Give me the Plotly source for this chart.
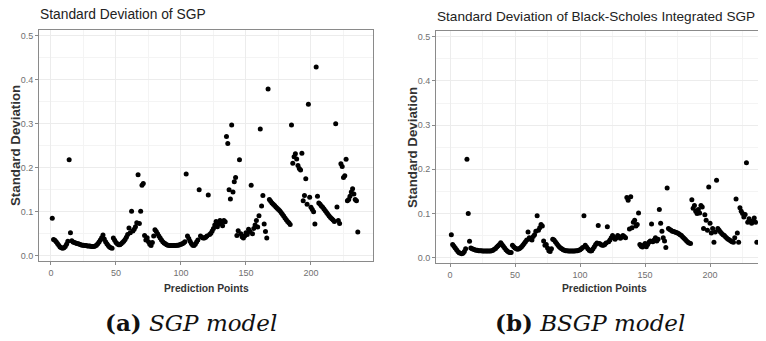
import plotly.graph_objects as go

# ---- data (index = prediction point) ----
sgp_sd = [
    0.085, 0.037, 0.035, 0.032, 0.028, 0.024, 0.020, 0.018, 0.017, 0.018,
    0.021, 0.026, 0.033, 0.218, 0.052, 0.034, 0.031, 0.030, 0.029, 0.028,
    0.027, 0.026, 0.025, 0.024, 0.024, 0.023, 0.023, 0.022, 0.022, 0.022,
    0.021, 0.021, 0.021, 0.022, 0.024, 0.027, 0.031, 0.036, 0.041, 0.047,
    0.038, 0.032, 0.027, 0.023, 0.020, 0.018, 0.017, 0.040, 0.035, 0.030,
    0.027, 0.025, 0.025, 0.027, 0.030, 0.033, 0.037, 0.042, 0.048, 0.063,
    0.052, 0.101, 0.056, 0.060, 0.066, 0.075, 0.184, 0.073, 0.101, 0.160,
    0.164, 0.046, 0.036, 0.041, 0.032, 0.026, 0.023, 0.030, 0.045, 0.059,
    0.055, 0.050, 0.045, 0.040, 0.036, 0.032, 0.029, 0.027, 0.025, 0.024,
    0.023, 0.023, 0.023, 0.023, 0.023, 0.023, 0.024, 0.024, 0.025, 0.026,
    0.027, 0.029, 0.032, 0.186, 0.045, 0.039, 0.033, 0.028, 0.024, 0.023,
    0.026, 0.031, 0.036, 0.150, 0.045, 0.042, 0.040, 0.040, 0.042, 0.045,
    0.138, 0.048, 0.051, 0.056, 0.062, 0.070, 0.078, 0.066, 0.072, 0.080,
    0.074, 0.068, 0.080, 0.077, 0.271, 0.255, 0.150, 0.129, 0.297, 0.145,
    0.168, 0.178, 0.046, 0.057, 0.218, 0.050, 0.043, 0.040, 0.045, 0.052,
    0.048, 0.060, 0.055, 0.160, 0.050, 0.062, 0.070, 0.080, 0.065, 0.091,
    0.288, 0.113, 0.137, 0.072, 0.055, 0.040, 0.379, 0.128, 0.124, 0.120,
    0.117, 0.114, 0.111, 0.108, 0.105, 0.102, 0.098, 0.094, 0.090, 0.086,
    0.082, 0.078, 0.075, 0.071, 0.297, 0.210, 0.225, 0.232, 0.220, 0.205,
    0.198, 0.195, 0.233, 0.125, 0.137, 0.175, 0.117, 0.344, 0.133, 0.110,
    0.105, 0.100, 0.072, 0.429, 0.135, 0.120, 0.117, 0.113, 0.110, 0.106,
    0.102, 0.098, 0.094, 0.090, 0.087, 0.084, 0.081, 0.078, 0.300, 0.111,
    0.080, 0.073, 0.209, 0.203, 0.178, 0.182, 0.219, 0.125, 0.128, 0.135,
    0.145, 0.152, 0.140, 0.128, 0.125, 0.054,
]

bsgp_sd = [
    0.052, 0.030, 0.026, 0.022, 0.018, 0.014, 0.011, 0.010, 0.009, 0.010,
    0.014, 0.020, 0.223, 0.100, 0.037, 0.022, 0.020, 0.019, 0.018, 0.017,
    0.017, 0.016, 0.016, 0.016, 0.015, 0.015, 0.015, 0.015, 0.015, 0.015,
    0.015, 0.016, 0.017, 0.019, 0.021, 0.024, 0.027, 0.030, 0.034, 0.030,
    0.026, 0.022, 0.018, 0.015, 0.013, 0.012, 0.012, 0.028, 0.025, 0.022,
    0.020, 0.019, 0.020, 0.022, 0.025, 0.028, 0.032, 0.036, 0.040, 0.058,
    0.045, 0.042, 0.040, 0.048, 0.052, 0.060, 0.095, 0.062, 0.068, 0.075,
    0.072, 0.038, 0.028, 0.030, 0.022, 0.016, 0.014, 0.020, 0.042, 0.040,
    0.036, 0.032, 0.028, 0.025, 0.022, 0.020, 0.018, 0.017, 0.016, 0.016,
    0.015, 0.015, 0.015, 0.015, 0.015, 0.015, 0.016, 0.016, 0.017, 0.018,
    0.020, 0.023, 0.095, 0.028, 0.024, 0.020, 0.017, 0.015, 0.016, 0.020,
    0.025, 0.030, 0.033, 0.073, 0.032, 0.030, 0.028, 0.028, 0.030, 0.033,
    0.070, 0.036, 0.040, 0.045, 0.050, 0.046, 0.042, 0.045, 0.050, 0.048,
    0.044, 0.046, 0.050, 0.048, 0.045, 0.136, 0.130, 0.065, 0.138, 0.068,
    0.080, 0.085, 0.072, 0.075, 0.101, 0.030, 0.026, 0.024, 0.028, 0.032,
    0.025, 0.030, 0.035, 0.038, 0.076, 0.036, 0.040, 0.045, 0.038, 0.042,
    0.109, 0.078, 0.060, 0.045, 0.038, 0.023, 0.158, 0.066, 0.064, 0.062,
    0.060, 0.059, 0.058, 0.057, 0.056, 0.054, 0.052, 0.050, 0.047, 0.044,
    0.041, 0.038, 0.035, 0.033, 0.032, 0.131, 0.112, 0.118, 0.105, 0.100,
    0.109, 0.101, 0.118, 0.115, 0.066, 0.097, 0.085, 0.062, 0.160, 0.078,
    0.056, 0.066, 0.035, 0.058, 0.175, 0.066, 0.062, 0.058, 0.055, 0.052,
    0.050, 0.047, 0.044, 0.042, 0.040, 0.038, 0.036, 0.035, 0.045, 0.133,
    0.056, 0.035, 0.113, 0.105, 0.100, 0.092, 0.098, 0.215, 0.080, 0.088,
    0.083, 0.078, 0.082, 0.090, 0.080, 0.035,
]

points_sgp = list(range(1, len(sgp_sd) + 1))
points_bsgp = list(range(1, len(bsgp_sd) + 1))

x_ticks = [0, 50, 100, 150, 200]
x_minor = [25, 75, 125, 175, 225]
y_ticks = [0.0, 0.1, 0.2, 0.3, 0.4, 0.5]
y_minor = [0.05, 0.15, 0.25, 0.35, 0.45]

title_a = "Standard Deviation of SGP"
title_b = "Standard Deviation of Black-Scholes Integrated SGP"
x_label = "Prediction Points"
y_label = "Standard Deviation"
caption_a = "<b>(a)</b> <i>SGP model</i>"
caption_b = "<b>(b)</b> <i>BSGP model</i>"

# ---- figure ----
W, H = 766, 341
OFF = 8  # page body margin: the figure is drawn 8px right / 8px down
SANS = "Liberation Sans, Arial, sans-serif"
BORDER = "#8a8a8a"
GRID = "#ececec"
GRID_MINOR = "#f4f4f4"
TICKC = "#707070"


def px(x):
    return (x - OFF) / W


def py(y):
    return (H - (y - OFF)) / H


fig = go.Figure()
marker = dict(color="black", size=5, line=dict(width=0))
fig.add_trace(go.Scatter(x=points_sgp, y=sgp_sd, mode="markers", marker=marker,
                         xaxis="x", yaxis="y", showlegend=False))
fig.add_trace(go.Scatter(x=points_bsgp, y=bsgp_sd, mode="markers", marker=marker,
                         xaxis="x2", yaxis="y2", showlegend=False))


def xax(domain, rng, anchor):
    return dict(domain=domain, range=rng, anchor=anchor, tickvals=x_ticks,
                showgrid=True, gridcolor=GRID, gridwidth=1, zeroline=False,
                showline=True, linecolor=BORDER, linewidth=1, mirror=True,
                ticks="outside", ticklen=3, tickcolor=BORDER, tickwidth=1,
                tickfont=dict(family=SANS, size=9, color=TICKC),
                minor=dict(tickvals=x_minor, showgrid=True, gridcolor=GRID_MINOR,
                           gridwidth=1, ticks=""))


def yax(domain, rng, anchor):
    return dict(domain=domain, range=rng, anchor=anchor, tickvals=y_ticks,
                tickformat=".1f",
                showgrid=True, gridcolor=GRID, gridwidth=1, zeroline=False,
                showline=True, linecolor=BORDER, linewidth=1, mirror=True,
                ticks="outside", ticklen=3, tickcolor=BORDER, tickwidth=1,
                tickfont=dict(family=SANS, size=9, color=TICKC),
                minor=dict(tickvals=y_minor, showgrid=True, gridcolor=GRID_MINOR,
                           gridwidth=1, ticks=""))


fig.update_layout(
    width=W, height=H,
    margin=dict(l=0, r=0, t=0, b=0),
    paper_bgcolor="white", plot_bgcolor="white",
    xaxis=xax([px(39), px(373)], [-9.2, 247.7], "y"),
    yaxis=yax([py(261), py(30)], [-0.012, 0.513], "x"),
    xaxis2=xax([px(436), 1.0], [-10.8, 249.2], "y2"),
    yaxis2=yax([py(263), py(31)], [-0.012, 0.513], "x2"),
)

ann = []
# panel titles
ann.append(dict(text=title_a, x=px(38), y=py(15), xref="paper", yref="paper",
                xanchor="left", yanchor="middle", showarrow=False,
                font=dict(family=SANS, size=13.8, color="#222222")))
ann.append(dict(text=title_b, x=px(435), y=py(17), xref="paper", yref="paper",
                xanchor="left", yanchor="middle", showarrow=False,
                font=dict(family=SANS, size=13.6, color="#222222")))
# axis titles
for cx in (206, 604):
    ann.append(dict(text="<b>" + x_label + "</b>", x=px(cx), y=py(288),
                    xref="paper", yref="paper", xanchor="center", yanchor="middle",
                    showarrow=False, font=dict(family=SANS, size=10.3, color="#333333")))
for cx, cy in ((15, 146), (412, 148)):
    ann.append(dict(text="<b>" + y_label + "</b>", x=px(cx), y=py(cy),
                    xref="paper", yref="paper", xanchor="center", yanchor="middle",
                    textangle=-90, showarrow=False,
                    font=dict(family=SANS, size=13.3, color="#333333")))
# captions
ann.append(dict(text=caption_a, x=px(191), y=py(322), xref="paper", yref="paper",
                xanchor="center", yanchor="middle", showarrow=False,
                font=dict(family="DejaVu Serif, serif", size=23, color="#111111")))
ann.append(dict(text=caption_b, x=px(590), y=py(322), xref="paper", yref="paper",
                xanchor="center", yanchor="middle", showarrow=False,
                font=dict(family="DejaVu Serif, serif", size=23, color="#111111")))
fig.update_layout(annotations=ann)

fig.write_html("out.html")
